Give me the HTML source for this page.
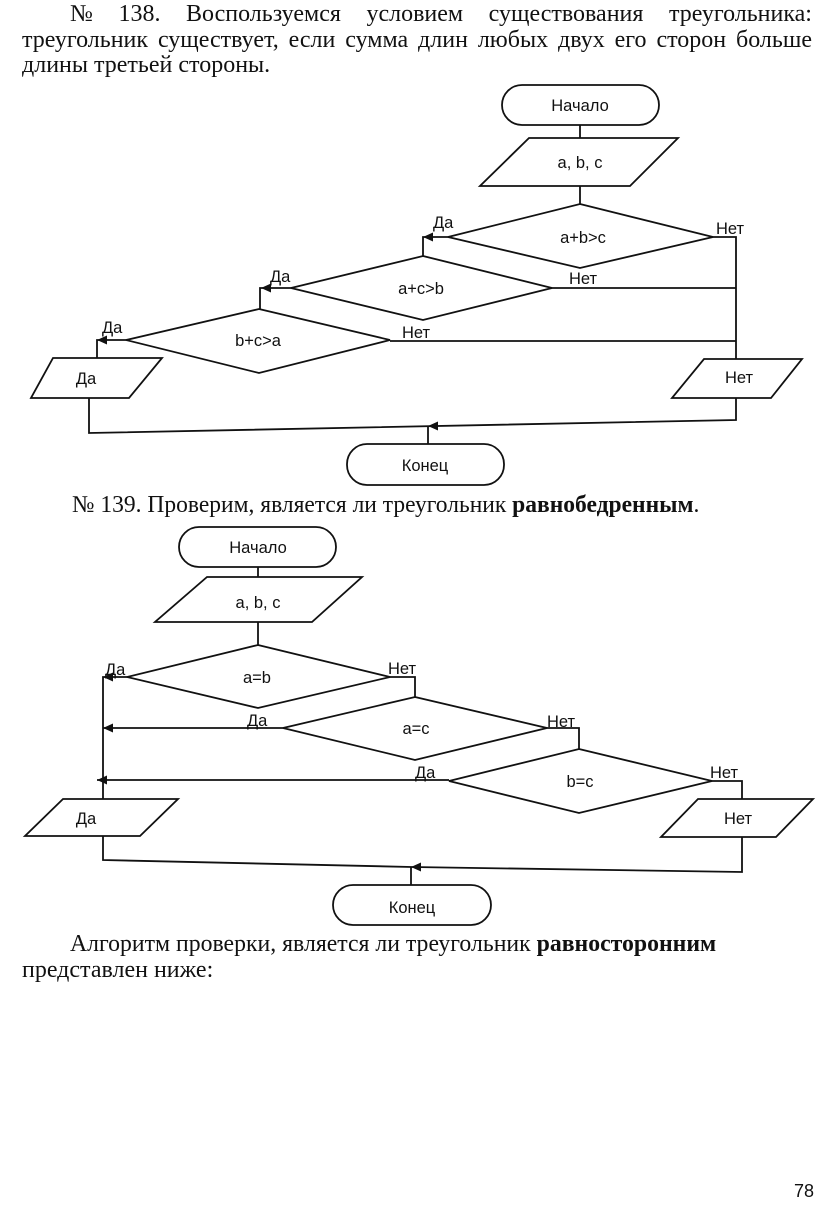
<!DOCTYPE html>
<html><head><meta charset="utf-8"><style>
html,body{margin:0;padding:0;background:#fff;}
#pg{position:relative;width:816px;height:1210px;overflow:hidden;background:#fff;}
.t{position:absolute;font-family:"Liberation Serif","Noto Serif CJK SC",serif;font-size:24px;line-height:24px;color:#111;white-space:nowrap;transform-origin:0 0;}
.j{display:flex;justify-content:space-between;}
svg{position:absolute;left:0;top:0;}
</style></head><body><div id="pg">
<div class="t j" style="left:70px;width:742px;top:2px;"><span>№</span><span>138.</span><span>Воспользуемся</span><span>условием</span><span>существования</span><span>треугольника:</span></div>
<div class="t j" style="left:22px;width:790px;top:28px;"><span>треугольник</span><span>существует,</span><span>если</span><span>сумма</span><span>длин</span><span>любых</span><span>двух</span><span>его</span><span>сторон</span><span>больше</span></div>
<div class="t" style="left:22px;top:53px;">длины третьей стороны.</div>
<div class="t" style="left:72px;top:493px;transform:scaleX(0.98);">№ 139. Проверим, является ли треугольник <b>равнобедренным</b>.</div>
<div class="t" style="left:70px;top:932px;transform:scaleX(0.99);">Алгоритм проверки, является ли треугольник <b>равносторонним</b></div>
<div class="t" style="left:22px;top:958px;">представлен ниже:</div>

<svg width="816" height="1210" viewBox="0 0 816 1210" xmlns="http://www.w3.org/2000/svg">
<g fill="none" stroke="#111" stroke-width="1.8" stroke-linejoin="miter">
<!-- Diagram 1 -->
<rect x="502" y="85" width="157" height="40" rx="20"/>
<line x1="580" y1="125" x2="580" y2="138"/>
<polygon points="529,138 678,138 630,186 480,186"/>
<line x1="580" y1="186" x2="580" y2="204"/>
<polygon points="580,204 713,237 580,268 448,237"/>
<polyline points="448,237 423,237 423,256"/>
<polyline points="713,237 736,237 736,359"/>
<polygon points="423,256 552,288 423,320 291,288"/>
<polyline points="291,288 260,288 260,309"/>
<line x1="552" y1="288" x2="736" y2="288"/>
<polygon points="259,309 390,340 259,373 126,340"/>
<polyline points="126,340 97,340 97,358"/>
<line x1="390" y1="341" x2="736" y2="341"/>
<polygon points="53,358 162,358 129,398 31,398"/>
<polygon points="704,359 802,359 771,398 672,398"/>
<polyline points="89,398 89,433 736,420 736,398"/>
<line x1="428" y1="426" x2="428" y2="444"/>
<rect x="347" y="444" width="157" height="41" rx="20"/>

<!-- Diagram 2 -->
<rect x="179" y="527" width="157" height="40" rx="20"/>
<line x1="258" y1="567" x2="258" y2="577"/>
<polygon points="207,577 362,577 312,622 155,622"/>
<line x1="258" y1="622" x2="258" y2="645"/>
<polygon points="258,645 390,677 258,708 127,677"/>
<polyline points="127,677 103,677 103,799"/>
<polyline points="390,677 415,677 415,697"/>
<polygon points="415,697 547,728 415,760 283,728"/>
<line x1="283" y1="728" x2="103" y2="728"/>
<polyline points="547,728 579,728 579,749"/>
<polygon points="579,749 712,781 579,813 449,781"/>
<line x1="449" y1="780" x2="97" y2="780"/>
<polyline points="712,781 742,781 742,799"/>
<polygon points="63,799 178,799 140,836 25,836"/>
<polygon points="698,799 813,799 776,837 661,837"/>
<polyline points="103,836 103,860 412,867 742,872 742,837"/>
<line x1="411" y1="867" x2="411" y2="885"/>
<rect x="333" y="885" width="158" height="40" rx="20"/>
</g>
<g fill="#111" stroke="none">
<polygon points="423,237 433,232.5 433,241.5"/>
<polygon points="261,288 271,283.5 271,292.5"/>
<polygon points="97,340 107,335.5 107,344.5"/>
<polygon points="428,426 438,421.5 438,430.5"/>
<polygon points="103,677 113,672.5 113,681.5"/>
<polygon points="103,728 113,723.5 113,732.5"/>
<polygon points="97,780 107,775.5 107,784.5"/>
<polygon points="411,867 421,862.5 421,871.5"/>
</g>
<g font-family="Liberation Sans, sans-serif" font-size="16.5" fill="#111">
<text x="580" y="111" text-anchor="middle">Начало</text>
<text x="580" y="168" text-anchor="middle">a, b, c</text>
<text x="583" y="243" text-anchor="middle">a+b&gt;c</text>
<text x="421" y="294" text-anchor="middle">a+c&gt;b</text>
<text x="258" y="346" text-anchor="middle">b+c&gt;a</text>
<text x="86" y="384" text-anchor="middle">Да</text>
<text x="739" y="383" text-anchor="middle">Нет</text>
<text x="425" y="471" text-anchor="middle">Конец</text>
<text x="433" y="228">Да</text>
<text x="716" y="234">Нет</text>
<text x="270" y="282">Да</text>
<text x="569" y="284">Нет</text>
<text x="102" y="333">Да</text>
<text x="402" y="338">Нет</text>

<text x="258" y="553" text-anchor="middle">Начало</text>
<text x="258" y="608" text-anchor="middle">a, b, c</text>
<text x="257" y="683" text-anchor="middle">a=b</text>
<text x="416" y="734" text-anchor="middle">a=c</text>
<text x="580" y="787" text-anchor="middle">b=c</text>
<text x="86" y="824" text-anchor="middle">Да</text>
<text x="738" y="824" text-anchor="middle">Нет</text>
<text x="412" y="913" text-anchor="middle">Конец</text>
<text x="105" y="675">Да</text>
<text x="388" y="674">Нет</text>
<text x="247" y="726">Да</text>
<text x="547" y="727">Нет</text>
<text x="415" y="778">Да</text>
<text x="710" y="778">Нет</text>

<text x="814" y="1197" text-anchor="end" font-size="18">78</text>
</g>
</svg>
</div></body></html>
